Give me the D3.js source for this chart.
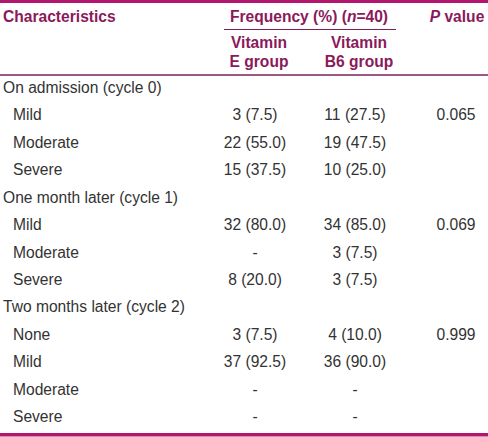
<!DOCTYPE html>
<html>
<head>
<meta charset="utf-8">
<script src="https://cdn.jsdelivr.net/npm/d3@7"></script>
<style>
  html, body { margin: 0; padding: 0; background: #fff; }
  svg { display: block; }
  text { font-family: "Liberation Sans", Arial, sans-serif; }
</style>
</head>
<body>
<div id="chart"></div>
<script>
// ---- data ----
const headerColumns = ["Characteristics", "Frequency (%) (n=40)", "P value"];
const subHeaders = [["Vitamin", "E group"], ["Vitamin", "B6 group"]];
const rowLabels = [
  "On admission (cycle 0)", "Mild", "Moderate", "Severe",
  "One month later (cycle 1)", "Mild", "Moderate", "Severe",
  "Two months later (cycle 2)", "None", "Mild", "Moderate", "Severe"
];
const rowIsGroup = [true, false, false, false, true, false, false, false, true, false, false, false, false];
const vitaminE = ["", "3 (7.5)", "22 (55.0)", "15 (37.5)", "", "32 (80.0)", "-", "8 (20.0)", "", "3 (7.5)", "37 (92.5)", "-", "-"];
const vitaminB6 = ["", "11 (27.5)", "19 (47.5)", "10 (25.0)", "", "34 (85.0)", "3 (7.5)", "3 (7.5)", "", "4 (10.0)", "36 (90.0)", "-", "-"];
const pValues = ["", "0.065", "", "", "", "0.069", "", "", "", "0.999", "", "", ""];

// ---- layout ----
const W = 488, H = 437;
const headColor = "#8a1a5c";
const thickColor = "#b3166e";
const thinColor = "#7d1f5e";
const bodyColor = "#333333";
const fs = 15.6;

const svg = d3.select("#chart").append("svg").attr("width", W).attr("height", H);

const y = d3.scalePoint().domain(d3.range(rowLabels.length)).range([93, 422]);
const colX = d3.scaleOrdinal().domain(["label", "indent", "vitE", "vitB6", "p"]).range([3, 13, 255, 355, 456]);

// rules
svg.append("rect").attr("x", 0).attr("y", 0).attr("width", W).attr("height", 3).attr("fill", thickColor);
svg.append("rect").attr("x", 0).attr("y", 433).attr("width", W).attr("height", 3.5).attr("fill", thickColor);
svg.append("line").attr("x1", 224).attr("x2", 396).attr("y1", 29.5).attr("y2", 29.5)
  .attr("stroke", thinColor).attr("stroke-width", 1.2);
svg.append("line").attr("x1", 0).attr("x2", W).attr("y1", 75).attr("y2", 75)
  .attr("stroke", thinColor).attr("stroke-width", 1.4);

// header
const hdr = svg.append("g").attr("font-weight", "bold").attr("fill", headColor).attr("font-size", fs);
hdr.append("text").attr("x", colX("label")).attr("y", 22).text(headerColumns[0]);
const freq = hdr.append("text").attr("x", (colX("vitE") + colX("vitB6")) / 2 + 4).attr("y", 22).attr("text-anchor", "middle");
freq.append("tspan").text("Frequency (%) (");
freq.append("tspan").attr("font-style", "italic").text("n");
freq.append("tspan").text("=40)");
const pv = hdr.append("text").attr("x", colX("p") + 1).attr("y", 22).attr("text-anchor", "middle");
pv.append("tspan").attr("font-style", "italic").text("P");
pv.append("tspan").text(" value");

["vitE", "vitB6"].forEach((k, i) => {
  subHeaders[i].forEach((t, j) => {
    hdr.append("text").attr("x", colX(k) + (i === 0 ? 4 : 4)).attr("y", 48 + j * 19)
      .attr("text-anchor", "middle").text(t);
  });
});

// body
const body = svg.append("g").attr("fill", bodyColor).attr("font-size", fs);
body.selectAll("text.lbl").data(rowLabels).join("text").attr("class", "lbl")
  .attr("x", (d, i) => rowIsGroup[i] ? colX("label") : colX("indent"))
  .attr("y", (d, i) => y(i)).text(d => d);

[["vitE", vitaminE], ["vitB6", vitaminB6], ["p", pValues]].forEach(([k, arr]) => {
  body.selectAll("text." + k).data(arr).join("text").attr("class", k)
    .attr("x", colX(k)).attr("y", (d, i) => y(i))
    .attr("text-anchor", "middle").text(d => d);
});
</script>
</body>
</html>
